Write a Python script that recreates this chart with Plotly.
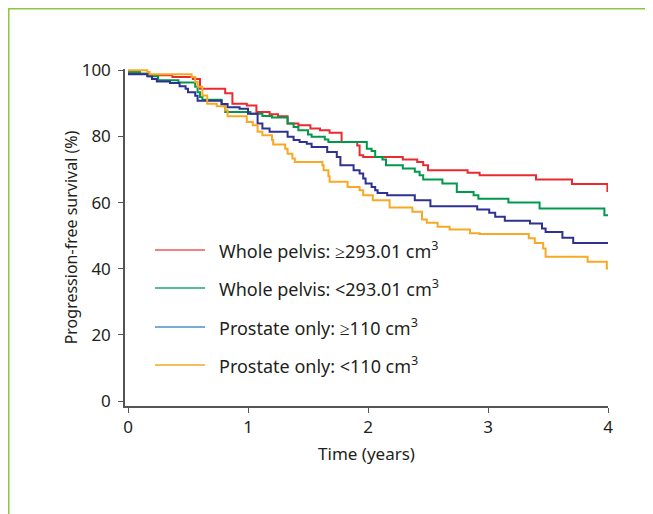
import plotly.graph_objects as go

# ---- data (time in years, progression-free survival in %) ----
red_t = [0, 0.17, 0.37, 0.54, 0.60, 0.81, 0.87, 0.99, 1.07, 1.18, 1.25, 1.33, 1.42, 1.52, 1.60, 1.68,
         1.78, 1.91, 1.93, 1.96, 2.29, 2.41, 2.46, 2.50, 2.83, 2.93, 3.40, 3.70, 3.995, 4.0]
red_s = [99.0, 98.5, 98.0, 97.4, 94.4, 93.1, 89.9, 89.4, 87.4, 86.7, 86.1, 83.9, 83.4, 82.4, 81.9, 81.1,
         78.3, 77.3, 74.3, 73.8, 73.0, 72.3, 71.3, 69.8, 69.0, 68.3, 67.0, 65.6, 63.5, 63.5]

green_t = [0, 0.10, 0.17, 0.25, 0.42, 0.56, 0.58, 0.60, 0.62, 0.78, 0.81, 1.02, 1.12, 1.20, 1.33, 1.38,
           1.42, 1.50, 1.53, 1.64, 1.67, 1.99, 2.03, 2.06, 2.12, 2.15, 2.29, 2.39, 2.43, 2.46, 2.62,
           2.74, 2.88, 2.92, 3.17, 3.43, 3.97, 4.0]
green_s = [99.5, 99.0, 98.2, 97.0, 96.3, 95.0, 93.4, 91.9, 91.1, 89.7, 87.4, 86.9, 86.2, 85.7, 83.9, 82.9,
           81.9, 80.6, 79.9, 79.1, 78.3, 76.3, 75.6, 73.8, 73.0, 71.3, 70.3, 69.3, 68.3, 67.0, 65.8,
           63.2, 62.2, 61.2, 60.0, 58.2, 56.2, 56.2]

blue_t = [0, 0.16, 0.20, 0.24, 0.35, 0.43, 0.48, 0.50, 0.56, 0.58, 0.78, 0.83, 0.93, 1.00, 1.08, 1.12,
          1.18, 1.33, 1.38, 1.43, 1.49, 1.53, 1.66, 1.74, 1.77, 1.88, 1.93, 1.96, 1.98, 2.03, 2.06,
          2.08, 2.16, 2.39, 2.52, 2.91, 3.01, 3.06, 3.14, 3.35, 3.45, 3.48, 3.62, 3.71, 4.0]
blue_s = [98.8, 98.2, 97.4, 96.6, 96.2, 95.2, 94.4, 93.4, 92.3, 90.8, 89.8, 88.8, 88.4, 86.9, 83.9, 82.4,
          81.4, 79.9, 78.9, 78.3, 77.8, 76.8, 75.3, 73.8, 71.3, 69.8, 68.8, 67.3, 65.8, 64.7, 63.7,
          62.9, 62.2, 60.7, 58.9, 57.9, 56.9, 55.7, 54.5, 53.7, 52.2, 51.1, 49.4, 47.8, 47.8]

orange_t = [0, 0.16, 0.18, 0.53, 0.56, 0.58, 0.62, 0.66, 0.74, 0.81, 0.83, 0.99, 1.04, 1.08, 1.12, 1.20,
            1.21, 1.31, 1.33, 1.37, 1.39, 1.62, 1.63, 1.67, 1.68, 1.83, 1.93, 1.96, 2.04, 2.18, 2.37,
            2.45, 2.49, 2.58, 2.68, 2.85, 2.93, 3.34, 3.39, 3.46, 3.48, 3.83, 3.99, 4.0]
orange_s = [100.0, 99.5, 98.8, 98.0, 96.5, 95.0, 92.4, 89.9, 89.1, 87.9, 86.1, 84.4, 83.4, 81.4, 80.4, 78.9,
            77.6, 76.3, 74.8, 73.3, 72.3, 71.3, 69.8, 68.0, 66.3, 64.7, 63.7, 62.2, 60.7, 58.5, 57.2,
            54.9, 53.9, 52.7, 51.9, 50.7, 50.5, 49.2, 47.8, 46.1, 43.6, 42.1, 40.1, 40.1]

series_names = ["Whole pelvis: \u2265293.01 cm<sup>3</sup>",
                "Whole pelvis: <293.01 cm<sup>3</sup>",
                "Prostate only: \u2265110 cm<sup>3</sup>",
                "Prostate only: <110 cm<sup>3</sup>"]
x_ticks = [0, 1, 2, 3, 4]
y_ticks = [0, 20, 40, 60, 80, 100]

curve_colors = ["#ea2a2e", "#00994c", "#2e3192", "#f9a825"]
legend_colors = ["#ee5a5a", "#1fa582", "#4b8fcc", "#f7a826"]

FONT = "Noto Sans"
TXT = "#231f20"
AX = "#555555"

# page body has an 8px margin: figure pixel (fx, fy) lands at screen (fx+8, fy+8)
ML, MR, MT, MB = 117, 53, 61, 116
W, H = 653, 514
PW = W - ML - MR
PH = H - MT - MB


def px_x(sx):
    return (sx - 8 - ML) / PW


def px_y(sy):
    return (H - MB - (sy - 8)) / PH


fig = go.Figure()
for t, s, c, n in zip([red_t, green_t, blue_t, orange_t],
                      [red_s, green_s, blue_s, orange_s], curve_colors, series_names):
    fig.add_trace(go.Scatter(x=t, y=s, mode="lines", line=dict(color=c, width=2, shape="hv"),
                             name=n, showlegend=False, cliponaxis=False))

# custom legend (paper coordinates)
leg_rows = [250, 288, 327, 365]
shapes = []
annots = []
for sy, c, n in zip(leg_rows, legend_colors, series_names):
    yv = px_y(sy)
    shapes.append(dict(type="line", xref="paper", yref="paper", x0=px_x(155), x1=px_x(205), y0=yv, y1=yv,
                       line=dict(color=c, width=1.5)))
    annots.append(dict(xref="paper", yref="paper", x=px_x(217), y=yv, text=n, showarrow=False,
                       xanchor="left", yanchor="middle", font=dict(family=FONT, size=18, color=TXT)))

# green frame
shapes.append(dict(type="rect", xref="paper", yref="paper",
                   x0=(0.75 - ML) / PW, x1=(W + 20 - ML) / PW,
                   y0=(H - MB - 0.75) / PH, y1=-(MB + 20) / PH,
                   line=dict(color="#8dc63f", width=1.5), fillcolor="rgba(0,0,0,0)", layer="below"))

fig.update_layout(
    width=W, height=H,
    margin=dict(l=ML, r=MR, t=MT, b=MB),
    paper_bgcolor="white", plot_bgcolor="white",
    shapes=shapes, annotations=annots,
    font=dict(family=FONT, size=16, color=TXT),
)
fig.update_xaxes(range=[-0.025, 4.0], tickvals=x_ticks, ticks="outside", ticklen=5, tickwidth=1.2,
                 tickcolor=AX, showline=True, linecolor=AX, linewidth=1.5, showgrid=False, zeroline=False,
                 title=dict(text="Time (years)", font=dict(family=FONT, size=17, color=TXT), standoff=11),
                 tickfont=dict(family=FONT, size=17, color=TXT))
fig.update_yaxes(range=[-1.5, 100.4], tickvals=y_ticks, ticks="outside", ticklen=5, tickwidth=1.2,
                 tickcolor=AX, showline=True, linecolor=AX, linewidth=1.5, showgrid=False, zeroline=False,
                 ticklabelstandoff=4,
                 title=dict(text="Progression-free survival (%)", font=dict(family=FONT, size=16, color=TXT),
                            standoff=0),
                 tickfont=dict(family=FONT, size=17, color=TXT))

fig.write_html("out.html")
